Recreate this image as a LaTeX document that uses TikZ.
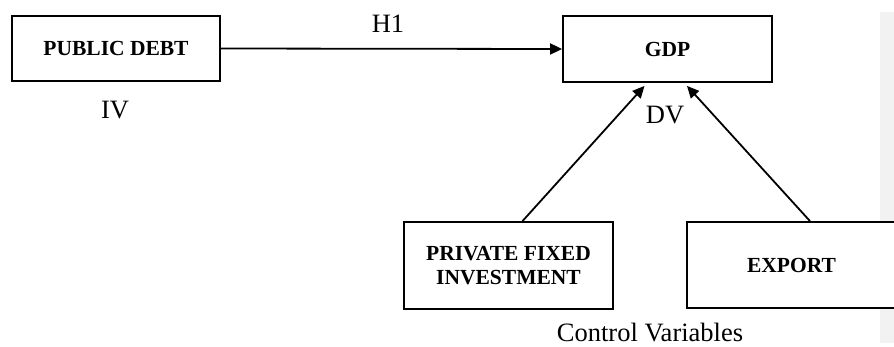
\documentclass[tikz,border=0pt]{standalone}
\usepackage{fontspec}
\setmainfont{Liberation Serif}
\usetikzlibrary{arrows.meta, positioning}
\definecolor{stripgray}{RGB}{242,242,242}
\tikzset{
    varbox/.style={rectangle, draw=black, line width=1.8pt, fill=white,
                   align=center, inner sep=0pt, minimum width=209pt,
                   font=\fontsize{21.5}{24}\selectfont\bfseries},
    arrow/.style={-{Triangle[length=12pt, width=11pt]}, line width=1.8pt, draw=black},
    tag/.style={font=\fontsize{26.5}{29}\selectfont, inner sep=0pt},
}
\begin{document}
\begin{tikzpicture}[x=1pt, y=1pt]
    \useasboundingbox (0,0) rectangle (894,-346);
    \fill[stripgray] (880,-12) rectangle (896,-343);
    \node[varbox, minimum width=208pt, minimum height=65pt] (debt) at (116,-48.5) {PUBLIC DEBT};
    \node[varbox, minimum height=66pt] (gdp) at (667.5,-49) {GDP};
    \node[varbox, minimum height=87pt] (pfi) at (508.5,-265.5) {PRIVATE FIXED\\INVESTMENT};
    \node[varbox, minimum height=86pt] (exp) at (791.5,-265) {EXPORT};
    \node[tag] (iv) at (115,-110) {IV};
    \node[tag] (dv) at (665,-115) {DV};
    \node[tag] (h1) at (388,-24) {H1};
    \node[tag, anchor=base] (ctrl) at (650,-341) {Control Variables};
    \draw[arrow] (debt.east) -- (gdp.west);
    \draw[arrow] ([xshift=14pt]pfi.north) -- ([xshift=-23pt, yshift=-3pt]gdp.south);
    \draw[arrow] ([xshift=18.5pt]exp.north) -- ([xshift=19.5pt, yshift=-3pt]gdp.south);
\end{tikzpicture}
\end{document}
